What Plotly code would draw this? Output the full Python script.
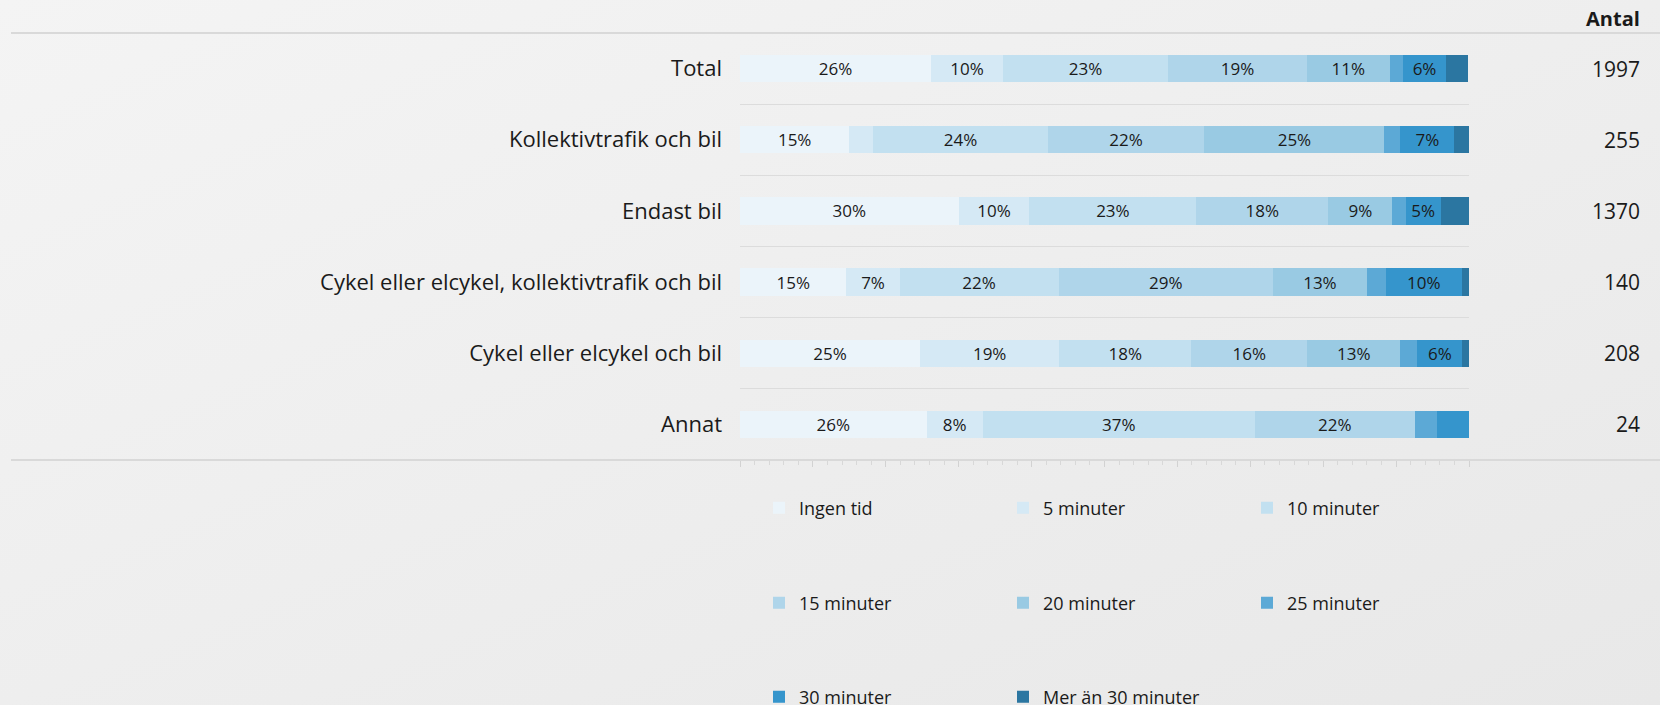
import base64
import plotly.graph_objects as go

# rows (top to bottom) and respondents per row
categories = ["Total", "Kollektivtrafik och bil", "Endast bil",
              "Cykel eller elcykel, kollektivtrafik och bil",
              "Cykel eller elcykel och bil", "Annat"]
antal = [1997, 255, 1370, 140, 208, 24]

series_names = ["Ingen tid", "5 minuter", "10 minuter", "15 minuter",
                "20 minuter", "25 minuter", "30 minuter", "Mer än 30 minuter"]

# share of respondents (%) per row
ingen_tid = [26.2, 15.0, 30.0, 14.6, 24.7, 25.6]
min_5 = [9.9, 3.3, 9.7, 7.3, 19.1, 7.7]
min_10 = [22.6, 23.9, 22.9, 21.8, 18.1, 37.3]
min_15 = [19.1, 21.5, 18.1, 29.4, 15.9, 22.0]
min_20 = [11.3, 24.7, 8.8, 12.9, 12.8, 0.0]
min_25 = [1.9, 2.2, 1.8, 2.6, 2.3, 3.0]
min_30 = [5.8, 7.4, 4.8, 10.4, 6.2, 4.4]
mer_30 = [3.1, 2.0, 4.0, 1.0, 1.0, 0.0]
series_values = [ingen_tid, min_5, min_10, min_15, min_20, min_25, min_30, mer_30]

colors = ["#EBF4FA", "#D5E9F5", "#C2E0F0", "#AFD5EA", "#99CAE3",
          "#5CA9D6", "#3595CC", "#2B76A1"]

FONT = "Open Sans"
TXT = "#1a1a1a"

# page geometry (px)
W, H = 1660, 705
L, R, T, B = 740, 191, 33, 245
PW, PH = W - L - R, H - T - B

# which legend row each series goes into
legend_of = ["legend", "legend", "legend", "legend2", "legend2", "legend2",
             "legend3", "legend3"]


def pct_label(v):
    r = int(v + 0.5)
    return f"{r}%" if r >= 5 else ""


fig = go.Figure()
for name, vals, col, lg in zip(series_names, series_values, colors, legend_of):
    fig.add_trace(go.Bar(
        x=vals, y=categories, orientation="h", name=name,
        marker=dict(color=col, line=dict(width=0)),
        text=[pct_label(v) for v in vals],
        textposition="inside", insidetextanchor="middle", textangle=0,
        insidetextfont=dict(family=FONT, size=17, color=TXT),
        constraintext="none",
        legend=lg,
        hovertemplate="%{y}<br>" + name + ": %{x:.0f}%<extra></extra>",
    ))

# soft diagonal gradient behind everything
svg = (f'<svg xmlns="http://www.w3.org/2000/svg" width="{W}" height="{H}">'
       '<defs><linearGradient id="g" x1="0" y1="0" x2="1" y2="1">'
       '<stop offset="0" stop-color="#F4F4F4"/><stop offset="1" stop-color="#E8E8E8"/>'
       '</linearGradient></defs>'
       f'<rect width="{W}" height="{H}" fill="url(#g)"/></svg>')
bg_src = "data:image/svg+xml;base64," + base64.b64encode(svg.encode()).decode()

px_x = lambda p: (p - L) / PW          # page px -> paper x
px_y = lambda p: (H - B - p) / PH       # page px -> paper y

annotations = [dict(x=1, xref="paper", xshift=173, xanchor="right",
                    y=c, yref="y", text=str(n), showarrow=False,
                    font=dict(family=FONT, size=21, color=TXT))
               for c, n in zip(categories, antal)]
annotations.append(dict(x=1, xref="paper", xshift=173, xanchor="right",
                        y=px_y(19), yref="paper", yanchor="middle",
                        text="<b>Antal</b>", showarrow=False,
                        font=dict(family=FONT, size=20, color=TXT)))

line_style = dict(color="#D9D9D9", width=2)
shapes = [dict(type="line", xref="paper", yref="paper", x0=px_x(11), x1=px_x(W),
               y0=1, y1=1, line=line_style),
          dict(type="line", xref="paper", yref="paper", x0=px_x(11), x1=px_x(W),
               y0=0, y1=0, line=line_style)]

leg_common = dict(orientation="h", xanchor="left", yanchor="middle",
                  x=px_x(759), entrywidth=199, entrywidthmode="pixels",
                  traceorder="normal", bgcolor="rgba(0,0,0,0)",
                  font=dict(family=FONT, size=18, color=TXT))

fig.update_layout(
    width=W, height=H,
    margin=dict(l=L, r=R, t=T, b=B, autoexpand=False),
    barmode="stack", bargap=0.614,
    paper_bgcolor="#EEEEEE", plot_bgcolor="rgba(0,0,0,0)",
    font=dict(family=FONT, color=TXT),
    images=[dict(source=bg_src, xref="paper", yref="paper", x=px_x(0), y=px_y(0),
                 sizex=W / PW, sizey=H / PH, sizing="stretch", layer="below",
                 xanchor="left", yanchor="top")],
    annotations=annotations,
    shapes=shapes,
    legend=dict(leg_common, y=px_y(508)),
    legend2=dict(leg_common, y=px_y(603)),
    legend3=dict(leg_common, y=px_y(697)),
    xaxis=dict(range=[0, 100], showticklabels=False, showgrid=False,
               zeroline=False, showline=False,
               ticks="outside", ticklen=6, tickwidth=1, tickcolor="#D2D2D2",
               tick0=0, dtick=10,
               minor=dict(ticks="outside", ticklen=4, tickcolor="#D8D8D8", dtick=2)),
    yaxis=dict(type="category", categoryorder="array", categoryarray=categories,
               autorange="reversed", tickson="boundaries", showgrid=True,
               gridcolor="#DCDCDC", gridwidth=1, ticks="", zeroline=False,
               ticklabelstandoff=17,
               tickfont=dict(family=FONT, size=22, color=TXT)),
)

# drop the browser's default 8px body margin so the chart fills the window
fig.write_html("out.html", config={"displayModeBar": False},
               post_script="document.body.style.margin='0';")
